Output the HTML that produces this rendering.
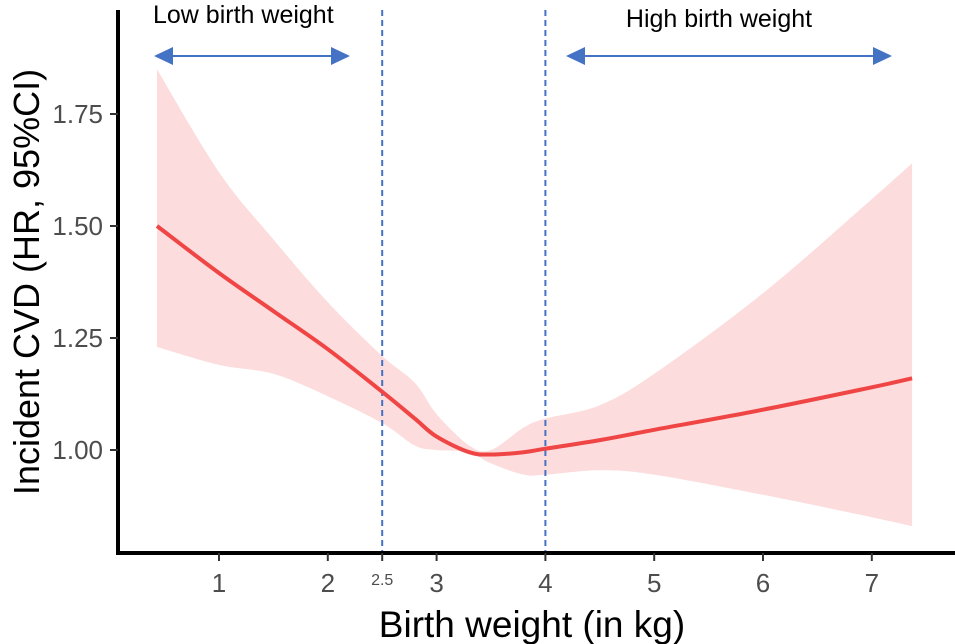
<!DOCTYPE html>
<html><head><meta charset="utf-8"><style>
html,body{margin:0;padding:0;background:#fff;}
svg{display:block;font-family:"Liberation Sans",Arial,sans-serif;}
</style></head><body>
<svg id="chart" width="955" height="644">
<g id="bands"></g><g id="marks"></g><g id="axes"></g>
</svg>
<script>
const xs    = [0.43, 1.0, 1.5, 2.0, 2.5, 2.8, 3.0, 3.3, 3.5, 3.8, 4.0, 4.5, 5.0, 6.0, 7.0, 7.37];
const hr    = [1.50, 1.395, 1.31, 1.225, 1.13, 1.07, 1.03, 0.995, 0.99, 0.995, 1.003, 1.022, 1.045, 1.09, 1.14, 1.16];
const upper = [1.85, 1.62, 1.47, 1.33, 1.21, 1.15, 1.08, 1.01, 1.0, 1.05, 1.07, 1.10, 1.17, 1.35, 1.56, 1.64];
const lower = [1.23, 1.19, 1.17, 1.12, 1.06, 1.01, 1.00, 0.995, 0.97, 0.945, 0.945, 0.955, 0.945, 0.90, 0.85, 0.83];
const xTicks = [1,2,3,4,5,6,7];
const yTicks = [1.00,1.25,1.50,1.75];
const yTickLabels = ["1.00","1.25","1.50","1.75"];
const cutoffs = [2.5,4];

const NS="http://www.w3.org/2000/svg";
const X=v=>219+(v-1)*108.8;
const Y=v=>450-(v-1)*448;
function mk(tag,attrs,parent,text){const e=document.createElementNS(NS,tag);for(const k in attrs)e.setAttribute(k,attrs[k]);if(text!==undefined)e.textContent=text;document.getElementById(parent).appendChild(e);return e;}
function smooth(pts,move){
 let d=(move?'M':'L')+pts[0][0].toFixed(1)+','+pts[0][1].toFixed(1);
 for(let i=0;i<pts.length-1;i++){
  const p0=pts[Math.max(0,i-1)],p1=pts[i],p2=pts[i+1],p3=pts[Math.min(pts.length-1,i+2)];
  const c1=[p1[0]+(p2[0]-p0[0])/6,p1[1]+(p2[1]-p0[1])/6];
  const c2=[p2[0]-(p3[0]-p1[0])/6,p2[1]-(p3[1]-p1[1])/6];
  d+=`C${c1[0].toFixed(1)},${c1[1].toFixed(1)} ${c2[0].toFixed(1)},${c2[1].toFixed(1)} ${p2[0].toFixed(1)},${p2[1].toFixed(1)}`;
 }
 return d;
}
const up=xs.map((x,i)=>[X(x),Y(upper[i])]);
const lo=xs.map((x,i)=>[X(x),Y(lower[i])]).reverse();
let band=mk('path',{d:smooth(up,true)+smooth(lo,false)+'Z',fill:'#fcdcdc',stroke:'none'},'bands');



for(const c of cutoffs){
 let l=mk('line',{x1:X(c),x2:X(c),y1:10,y2:553,stroke:'#4472c4','stroke-width':2,'stroke-dasharray':'6,4'},'marks');
 
 
}
let line=mk('path',{d:smooth(xs.map((x,i)=>[X(x),Y(hr[i])]),true),fill:'none',stroke:'#f04545','stroke-width':4,'stroke-linejoin':'round'},'marks');



let ya=mk('line',{x1:118,x2:118,y1:10,y2:555,stroke:'#000','stroke-width':4},'axes');


let xa=mk('line',{x1:116,x2:955,y1:553,y2:553,stroke:'#000','stroke-width':4},'axes');


yTicks.forEach((t,i)=>{
 mk('line',{x1:110,x2:118,y1:Y(t),y2:Y(t),stroke:'#333','stroke-width':2},'axes');
 let tl=mk('text',{x:103,y:Y(t)+9,'text-anchor':'end','font-size':26,fill:'#4d4d4d'},'axes',yTickLabels[i]);
 
 
});
xTicks.forEach(t=>{
 mk('line',{x1:X(t),x2:X(t),y1:553,y2:561,stroke:'#333','stroke-width':2},'axes');
 let tl=mk('text',{x:X(t),y:592,'text-anchor':'middle','font-size':26,fill:'#4d4d4d'},'axes',String(t));
 
 
});
mk('line',{x1:X(2.5),x2:X(2.5),y1:553,y2:561,stroke:'#333','stroke-width':2},'axes');
let t25=mk('text',{x:X(2.5),y:585,'text-anchor':'middle','font-size':16,fill:'#4d4d4d'},'axes','2.5');



let xt=mk('text',{x:532,y:637,'text-anchor':'middle','font-size':37,fill:'#000'},'axes','Birth weight (in kg)');


let yt=mk('text',{x:0,y:0,'text-anchor':'middle','font-size':36,fill:'#000',transform:'translate(39,282) rotate(-90)'},'axes','Incident CVD (HR, 95%CI)');



function arrow(x1,x2,y,name){
 let g=mk('g',{},'axes');
 
 
 let l=document.createElementNS(NS,'line');
 [['x1',x1+10],['x2',x2-10],['y1',y],['y2',y],['stroke','#4472c4'],['stroke-width',2]].forEach(a=>l.setAttribute(a[0],a[1]));g.appendChild(l);
 let p=document.createElementNS(NS,'path');
 p.setAttribute('d',`M${x1},${y}L${x1+19},${y-9}L${x1+19},${y+9}Z M${x2},${y}L${x2-19},${y-9}L${x2-19},${y+9}Z`);
 p.setAttribute('fill','#4472c4');g.appendChild(p);
}
arrow(154,350,56,'low-birth-weight-arrow');
arrow(566,892,56,'high-birth-weight-arrow');
let lt=mk('text',{x:153,y:23,'font-size':25,fill:'#000'},'axes','Low birth weight');


let ht=mk('text',{x:719,y:27,'text-anchor':'middle','font-size':25,fill:'#000'},'axes','High birth weight');


</script>
</body></html>
